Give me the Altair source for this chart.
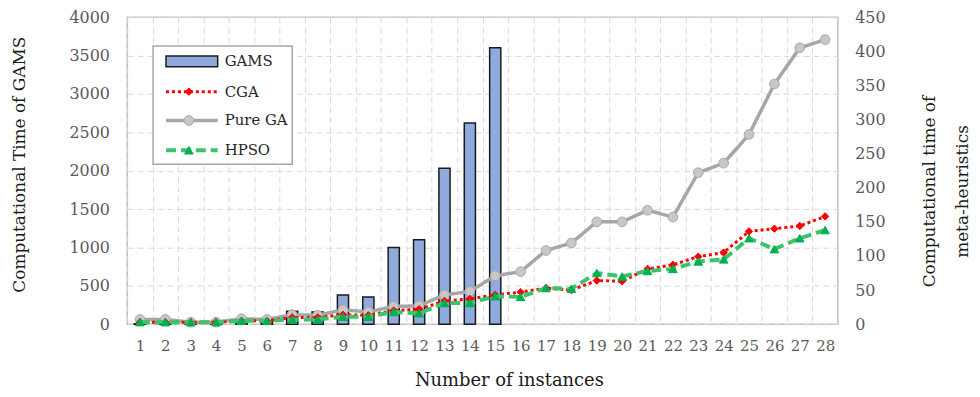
import altair as alt
import pandas as pd

instances = list(range(1, 29))
gams = [5, 5, 3, 3, 12, 35, 170, 160, 380, 355, 1000, 1100, 2030, 2620, 3600]
cga = [3, 3, 3, 3, 5, 5, 10, 10, 14, 13, 20, 22, 34, 37, 43, 47, 53, 50, 64, 63,
       81, 87, 99, 105, 136, 140, 144, 158]
pure_ga = [7, 7, 3, 3, 8, 7, 14, 13, 21, 18, 26, 27, 43, 48, 71, 77, 108, 119, 150, 150,
           167, 157, 222, 236, 278, 352, 405, 417]
hpso = [3, 3, 3, 3, 5, 5, 7, 7, 11, 11, 18, 16, 31, 31, 41, 40, 53, 52, 75, 70,
        78, 81, 92, 95, 126, 110, 126, 138]
legend_names = ["GAMS", "CGA", "Pure GA", "HPSO"]

df_bar = pd.DataFrame({"inst": instances[:len(gams)], "GAMS": gams})
df_line = pd.DataFrame({"inst": instances, "CGA": cga, "GA": pure_ga, "HPSO": hpso})

FONT = "DejaVu Serif"
GRID = "#d9d9d9"

x_enc = alt.X(
    "inst:O",
    scale=alt.Scale(domain=instances, paddingInner=0, paddingOuter=0),
    axis=alt.Axis(title="Number of instances", labelAngle=0, tickBand="extent",
                  grid=True, gridDash=[6, 4], gridColor=GRID, gridWidth=1,
                  ticks=False, domain=False, labelPadding=14, labelFontSize=15,
                  titleX=384, titleY=62, titleBaseline="alphabetic", titleFontSize=18),
)

left_axis = alt.Axis(title="Computational Time of GAMS", values=list(range(0, 4001, 500)),
                     format="d",
                     grid=True, gridDash=[6, 4], gridColor=GRID, gridWidth=1,
                     ticks=False, domain=False, labelPadding=18,
                     titleX=-99, titleY=148)

right_scale = alt.Scale(domain=[0, 450])
right_axis = alt.Axis(title=["Computational time of", "meta-heuristics"], orient="right",
                      values=list(range(0, 451, 50)), grid=False, ticks=False, domain=False,
                      labelPadding=17, titleAngle=-90, titleBaseline="top",
                      titleX=84, titleY=175, titleLineHeight=33, titleFontSize=17)

bars = alt.Chart(df_bar).mark_bar(
    width=alt.RelativeBandSize(0.44), fill="#8faadc", stroke="#1a1a1a", strokeWidth=1.5
).encode(x=x_enc, y=alt.Y("GAMS:Q", scale=alt.Scale(domain=[0, 4000]), axis=left_axis))

series = [
    # field, line color, dash, width, shape, fill, stroke, size
    ("GA", "#a6a6a6", [1, 0], 3.5, "circle", "#c8c8c8", "#a6a6a6", 95),
    ("CGA", "#ff0000", [3, 3], 3, "diamond", "#ff0000", "#ff0000", 55),
    ("HPSO", "#3cc46b", [10, 5], 4, "triangle-up", "#00b050", "#00b050", 75),
]

layers = []
for field, col, dash, w, shape, fill, stroke, size in series:
    yenc = alt.Y(f"{field}:Q", scale=right_scale, axis=right_axis)
    layers.append(alt.Chart(df_line).mark_line(color=col, strokeDash=dash, strokeWidth=w)
                  .encode(x=x_enc, y=yenc))
    layers.append(alt.Chart(df_line).mark_point(shape=shape, filled=True, fill=fill,
                                                stroke=stroke, strokeWidth=1, size=size,
                                                opacity=1)
                  .encode(x=x_enc, y=yenc))
right = alt.layer(*layers)

one = pd.DataFrame({"a": [0]})
leg = []
leg.append(alt.Chart(one).mark_rect(fill="white", stroke="#a6a6a6", strokeWidth=1.5).encode(
    x=alt.value(26), x2=alt.value(166), y=alt.value(29), y2=alt.value(148)))
ys = [44, 75, 104, 134]
leg.append(alt.Chart(one).mark_rect(fill="#8faadc", stroke="#1a1a1a", strokeWidth=1.5).encode(
    x=alt.value(39), x2=alt.value(91), y=alt.value(39), y2=alt.value(50)))
for (field, col, dash, w, shape, fill, stroke, size), yy in zip(series, [104, 75, 134]):
    leg.append(alt.Chart(one).mark_rule(color=col, strokeDash=dash, strokeWidth=w).encode(
        x=alt.value(39), x2=alt.value(91), y=alt.value(yy)))
    leg.append(alt.Chart(one).mark_point(shape=shape, filled=True, fill=fill, stroke=stroke,
                                         strokeWidth=1, size=size, opacity=1).encode(
        x=alt.value(62), y=alt.value(yy)))
for name, yy in zip(legend_names, ys):
    leg.append(alt.Chart(one).mark_text(align="left", baseline="middle", font=FONT,
                                        fontSize=15, color="#262626").encode(
        x=alt.value(98), y=alt.value(yy), text=alt.value(name)))

chart = alt.layer(bars, right, *leg).resolve_scale(y="independent").properties(
    width=715, height=309,
    autosize=alt.AutoSizeParams(type="none"),
    padding={"left": 120, "top": 8, "right": 135, "bottom": 64},
).configure_axis(
    labelFont=FONT, labelFontSize=16, labelColor="#595959",
    titleFont=FONT, titleFontSize=17, titleColor="#1a1a1a", titleFontWeight="normal",
).configure_view(stroke="#bfbfbf", strokeWidth=1.5)

chart.save("out.html", embed_options={"renderer": "svg", "actions": False})
